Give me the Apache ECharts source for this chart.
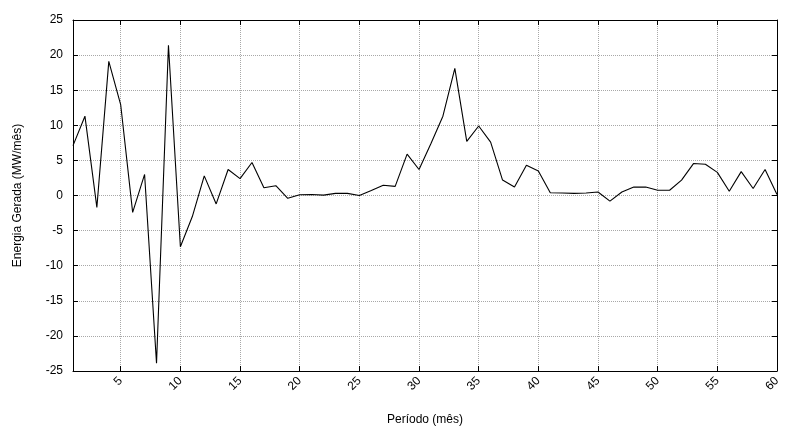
<!DOCTYPE html>
<html><head><meta charset="utf-8">
<script src="https://cdn.jsdelivr.net/npm/echarts@6/dist/echarts.min.js"></script>
<style>html,body{margin:0;padding:0;background:#fff}#c{width:791px;height:434px}</style>
</head><body><div id="c"></div>
<script>
const periods = [];
for (let i = 1; i <= 60; i++) periods.push(i);
const energia = [7.1, 11.3, -1.7, 19.1, 12.9, -2.4, 3.0, -23.9, 21.4, -7.3,
  -3.0, 2.8, -1.2, 3.7, 2.4, 4.7, 1.1, 1.4, -0.4, 0.1,
  0.15, 0.05, 0.3, 0.3, 0.0, 0.7, 1.45, 1.3, 5.9, 3.7,
  7.4, 11.3, 18.1, 7.7, 9.9, 7.6, 2.2, 1.2, 4.3, 3.5,
  0.4, 0.35, 0.3, 0.35, 0.5, -0.8, 0.5, 1.2, 1.2, 0.75,
  0.75, 2.2, 4.55, 4.45, 3.3, 0.6, 3.4, 1.0, 3.7, 0.15];
const xTicks = [5, 10, 15, 20, 25, 30, 35, 40, 45, 50, 55, 60];
const yTicks = [-25, -20, -15, -10, -5, 0, 5, 10, 15, 20, 25];

const font = 'Liberation Sans';
const chart = echarts.init(document.getElementById('c'), null, {renderer: 'canvas'});
const tick = {show: true, inside: true, length: 5, lineStyle: {color: '#000', width: 1}};
const axLine = {show: true, onZero: false, lineStyle: {color: '#000', width: 1}};
chart.setOption({
  animation: false,
  grid: {left: 73, right: 14, top: 20, bottom: 63},
  xAxis: [{
    type: 'value', min: 1, max: 60,
    name: 'Período (mês)', nameLocation: 'middle', nameGap: 43,
    nameTextStyle: {fontFamily: font, fontSize: 12, color: '#000'},
    axisLine: axLine,
    axisTick: Object.assign({customValues: xTicks}, tick),
    axisLabel: {customValues: xTicks, rotate: 45, fontFamily: font, fontSize: 12, color: '#000', margin: 8},
    splitLine: {show: true, lineStyle: {color: '#a8a8a8', type: 'dotted', width: 1}}
  }, {
    type: 'value', min: 1, max: 60, position: 'top',
    axisLine: axLine,
    axisTick: Object.assign({customValues: xTicks}, tick),
    axisLabel: {show: false}, splitLine: {show: false}
  }],
  yAxis: [{
    type: 'value', min: -25, max: 25, interval: 5,
    name: 'Energia Gerada (MW/mês)', nameLocation: 'middle', nameGap: 49,
    nameTextStyle: {fontFamily: font, fontSize: 12, color: '#000'},
    axisLine: axLine,
    axisTick: tick,
    axisLabel: {fontFamily: font, fontSize: 12, color: '#000', margin: 10},
    splitLine: {show: true, lineStyle: {color: '#a8a8a8', type: 'dotted', width: 1}}
  }, {
    type: 'value', min: -25, max: 25, interval: 5, position: 'right',
    axisLine: axLine,
    axisTick: tick,
    axisLabel: {show: false}, splitLine: {show: false}
  }],
  series: [{
    type: 'line', data: periods.map((p, i) => [p, energia[i]]),
    showSymbol: false, lineStyle: {color: '#000', width: 1.1}, clip: true
  }]
});
</script></body></html>
